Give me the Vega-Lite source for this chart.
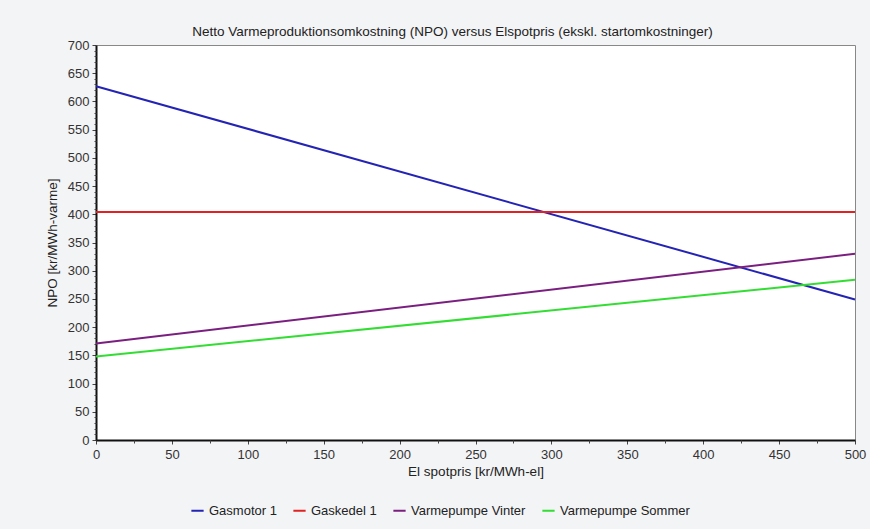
{
  "$schema": "https://vega.github.io/schema/vega-lite/v6.json",
  "width": 759,
  "height": 395,
  "autosize": {"type": "none"},
  "padding": {"left": 96, "top": 45, "right": 15, "bottom": 89},
  "background": "#f3f4f6",
  "title": {
    "text": "Netto Varmeproduktionsomkostning (NPO) versus Elspotpris (ekskl. startomkostninger)",
    "font": "Liberation Sans",
    "fontSize": 13.5,
    "fontWeight": "normal",
    "color": "#222222",
    "offset": 1,
    "dx": -23,
    "anchor": "middle"
  },
  "config": {
    "view": {"fill": "white", "stroke": "#888888", "strokeWidth": 1},
    "axis": {
      "labelFont": "Liberation Sans",
      "labelFontSize": 13,
      "labelColor": "#333333",
      "labelFlush": false,
      "labelOverlap": false,
      "titleFont": "Liberation Sans",
      "titleFontSize": 13.5,
      "titleFontWeight": "normal",
      "titleColor": "#222222",
      "gridColor": "#d4d4d4",
      "gridWidth": 1,
      "domainColor": "#111111",
      "domainWidth": 2,
      "tickColor": "#444444",
      "tickSize": 4
    }
  },
  "data": {
    "values": [
      {"series": "Gasmotor 1", "el": 0, "npo": 627},
      {"series": "Gasmotor 1", "el": 500, "npo": 249},
      {"series": "Gaskedel 1", "el": 0, "npo": 404},
      {"series": "Gaskedel 1", "el": 500, "npo": 404},
      {"series": "Varmepumpe Vinter", "el": 0, "npo": 171},
      {"series": "Varmepumpe Vinter", "el": 500, "npo": 330},
      {"series": "Varmepumpe Sommer", "el": 0, "npo": 148},
      {"series": "Varmepumpe Sommer", "el": 500, "npo": 284}
    ]
  },
  "resolve": {"axis": {"x": "independent", "y": "independent"}},
  "layer": [
    {
      "mark": {"type": "line", "opacity": 0},
      "encoding": {
        "x": {
          "field": "el",
          "type": "quantitative",
          "scale": {"domain": [0, 500], "nice": false},
          "axis": {"orient": "bottom", "values": [25, 75, 125, 175, 225, 275, 325, 375, 425, 475], "labels": false, "grid": false, "domain": false, "title": null, "tickSize": 3, "zindex": 1}
        },
        "y": {
          "field": "npo",
          "type": "quantitative",
          "scale": {"domain": [0, 700], "nice": false},
          "axis": {"orient": "left", "values": [10, 20, 30, 40, 60, 70, 80, 90, 110, 120, 130, 140, 160, 170, 180, 190, 210, 220, 230, 240, 260, 270, 280, 290, 310, 320, 330, 340, 360, 370, 380, 390, 410, 420, 430, 440, 460, 470, 480, 490, 510, 520, 530, 540, 560, 570, 580, 590, 610, 620, 630, 640, 660, 670, 680, 690], "labels": false, "grid": false, "domain": false, "title": null, "tickSize": 2, "zindex": 1}
        }
      }
    },
    {
      "mark": {"type": "line", "strokeWidth": 2},
      "encoding": {
        "x": {
          "field": "el",
          "type": "quantitative",
          "title": "El spotpris [kr/MWh-el]",
          "scale": {"domain": [0, 500], "nice": false},
          "axis": {"orient": "bottom", "values": [0, 50, 100, 150, 200, 250, 300, 350, 400, 450, 500], "titlePadding": 3, "labelPadding": 4}
        },
        "y": {
          "field": "npo",
          "type": "quantitative",
          "title": "NPO [kr/MWh-varme]",
          "scale": {"domain": [0, 700], "nice": false},
          "axis": {"orient": "left", "values": [0, 50, 100, 150, 200, 250, 300, 350, 400, 450, 500, 550, 600, 650, 700], "titlePadding": 8, "labelPadding": 3}
        },
        "color": {
          "field": "series",
          "type": "nominal",
          "sort": ["Gasmotor 1", "Gaskedel 1", "Varmepumpe Vinter", "Varmepumpe Sommer"],
          "scale": {
            "domain": ["Gasmotor 1", "Gaskedel 1", "Varmepumpe Vinter", "Varmepumpe Sommer"],
            "range": ["#2424b4", "#e02222", "#7a1f7f", "#33dd33"]
          },
          "legend": {
            "title": null,
            "orient": "none",
            "direction": "horizontal",
            "legendX": 94,
            "legendY": 458,
            "symbolType": "stroke",
            "symbolSize": 150,
            "symbolStrokeWidth": 2,
            "labelFont": "Liberation Sans",
            "labelFontSize": 13,
            "labelColor": "#222222",
            "columnPadding": 12,
            "symbolOffset": 0
          }
        }
      }
    }
  ]
}
